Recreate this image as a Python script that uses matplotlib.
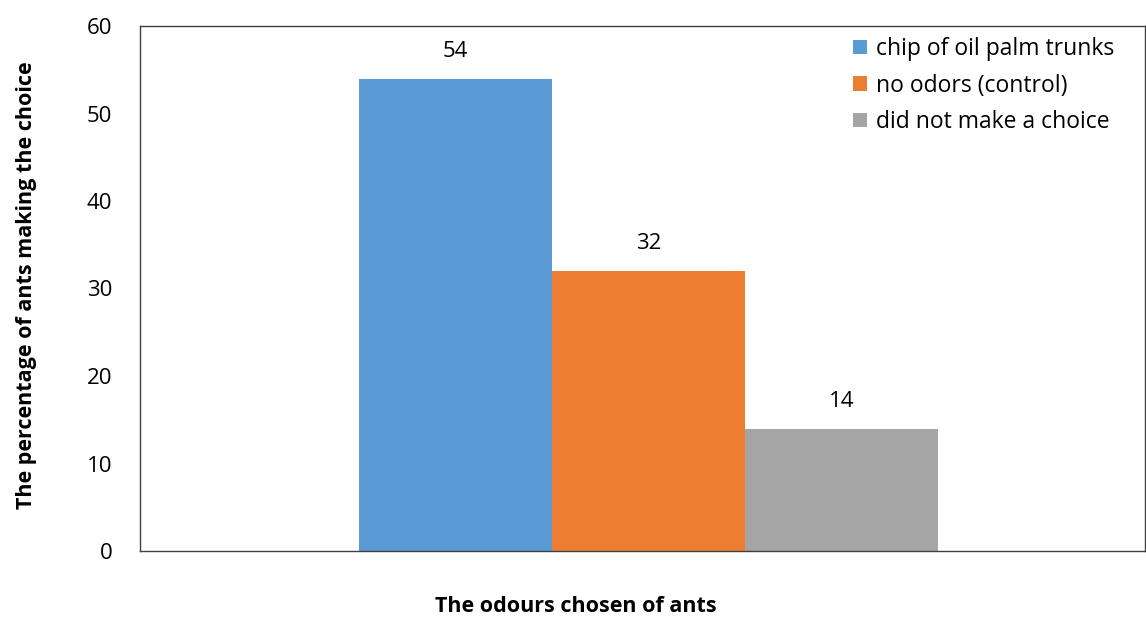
import numpy as np
import matplotlib.pyplot as plt

plt.rcParams['font.family'] = ['Open Sans', 'DejaVu Sans']

# data
categories = ['chip of oil palm trunks', 'no odors (control)', 'did not make a choice']
values = [54, 32, 14]
colors = ['#5B9BD5', '#ED7D31', '#A5A5A5']
yticks = [0, 10, 20, 30, 40, 50, 60]

fig = plt.figure(figsize=(11.46, 6.18), dpi=100)
ax = fig.add_axes([140/1146, 1 - 551/618, 1005/1146, 525/618])

xpos = np.arange(len(values)) - 1
for x, v, c, lab in zip(xpos, values, colors, categories):
    ax.bar(x, v, width=1.0, color=c, label=lab)
    ax.text(x, v + 1.9, str(v), ha='center', va='bottom', fontsize=16)

ax.set_xlim(-2.635, 2.57)
ax.set_ylim(0, 60)
ax.set_yticks(yticks)
ax.tick_params(axis='y', labelsize=16, length=0, pad=20)
ax.set_xticks([])
for s in ax.spines.values():
    s.set_linewidth(1.0)
    s.set_color('#404040')

fig.text(27/1146, 1 - 285/618, 'The percentage of ants making the choice',
         rotation=90, ha='center', va='center', fontsize=15.5, fontweight='bold')
fig.text(576/1146, 1 - 607/618, 'The odours chosen of ants',
         ha='center', va='center', fontsize=15.5, fontweight='bold')

ax.legend(loc='upper left', frameon=False, fontsize=16.5, handlelength=0.61,
          handleheight=0.61, handletextpad=0.4, labelspacing=0.55,
          borderpad=0, borderaxespad=0,
          bbox_to_anchor=(853/1146, 1 - 37/618), bbox_transform=fig.transFigure)

fig.savefig('out.png', dpi=100)
